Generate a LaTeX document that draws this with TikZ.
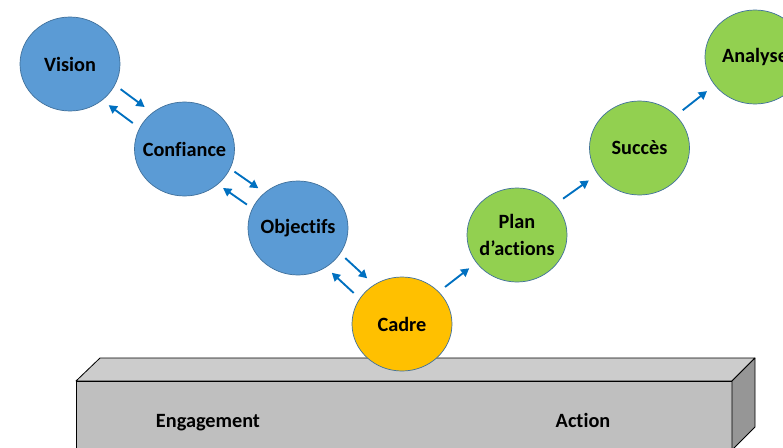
\documentclass[tikz,border=0pt]{standalone}
\usepackage{fontspec}
\setmainfont[Ligatures={NoCommon}]{Carlito}
\usepackage{tikz}
\usetikzlibrary{arrows.meta,calc}
\usetikzlibrary{shapes.geometric}
\usetikzlibrary{positioning}

\definecolor{bleu}{HTML}{5B9BD5}
\definecolor{vert}{HTML}{92D050}
\definecolor{jaune}{HTML}{FFC000}
\definecolor{fleche}{HTML}{0070C0}
\definecolor{bord}{HTML}{41719C}

\tikzset{
	rond/.style={ellipse,draw=bord,line width=0.6pt,minimum width=3cm,minimum height=2.82cm,inner xsep=-14pt,inner ysep=-8pt,
		font=\fontsize{17.3}{23}\selectfont\bfseries,align=center},
	fl/.style={draw=fleche,line width=1.6pt,-{Triangle[length=7pt,width=7.5pt]}},
	face/.style={draw=black,line width=0.7pt,line join=round},
	etiquette/.style={anchor=base,font=\fontsize{17.3}{20}\selectfont\bfseries},
}

\begin{document}
\begin{tikzpicture}[x=0.03cm,y=-0.03cm]
			\useasboundingbox (0,0) rectangle (783,447);
			\clip (0,0) rectangle (783,447);

			% socle
			\filldraw[face,fill=black!20] (76,381) -- (100,358) -- (755,358) -- (732,381) -- cycle;
			\filldraw[face,fill=black!25] (76,381) rectangle (732,450);
			\filldraw[face,fill=black!41] (732,381) -- (755,358) -- (755,427) -- (732,450) -- cycle;
			\node[etiquette] (engagement) at (208,427) {Engagement};
			\node[etiquette] (action) at (583,427) {Action};

			\node[rond,fill=bleu] (vision) at (70,64) {Vision};
			\node[rond,fill=bleu] (confiance) at (184.5,149) {Confiance};
			\node[rond,fill=bleu] (objectifs) at (298,228) {Objectifs};
			\node[rond,fill=jaune] (cadre) at (402,324) {Cadre};
			\node[rond,fill=vert] (plan) at (517,235) {Plan\\d’actions};
			\node[rond,fill=vert] (succes) at (639.5,148) {Succès};
			\node[rond,fill=vert] (analyse) at (755,57) {Analyse};

			\foreach \a/\b in {vision/confiance,confiance/objectifs,objectifs/cadre}{
				\draw[fl] ($(\a)!0.39!(\b)!8.5pt!90:(\b)$) -- ($(\a)!0.60!(\b)!8.5pt!90:(\b)$);
				\draw[fl] ($(\b)!0.40!(\a)!8.5pt!90:(\a)$) -- ($(\b)!0.61!(\a)!8.5pt!90:(\a)$);
			}
			\foreach \a/\b in {cadre/plan,plan/succes,succes/analyse}
				\draw[fl] ($(\a)!0.39!(\b)!2.5pt!90:(\b)$) -- ($(\a)!0.60!(\b)!2.5pt!90:(\b)$);
		\end{tikzpicture}
\end{document}
